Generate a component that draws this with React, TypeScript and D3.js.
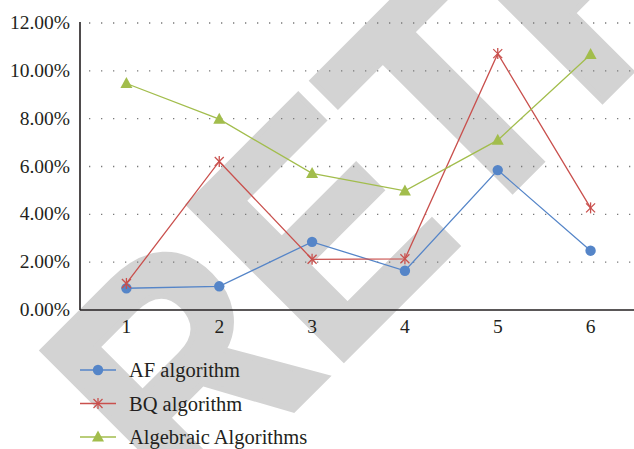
import React from "react";
import * as d3 from "d3";

const categories = ["1", "2", "3", "4", "5", "6"];
const afValues = [0.0091, 0.0099, 0.0285, 0.0164, 0.0585, 0.0248];
const bqValues = [0.0111, 0.0621, 0.0212, 0.0214, 0.1072, 0.0427];
const algValues = [0.0947, 0.0798, 0.0571, 0.0498, 0.071, 0.1068];
const yTicks = [0, 0.02, 0.04, 0.06, 0.08, 0.1, 0.12];
const seriesNames = ["AF algorithm", "BQ algorithm", "Algebraic Algorithms"];

const W = 634;
const H = 449;
const left = 80;
const top = 23;
const bottom = 310;
const right = 637;

const colors = ["#5585c8", "#c9504d", "#a2bd4c"];
const FONT = "'Liberation Serif', 'Times New Roman', serif";

function Marker({ kind, x, y, color }: { kind: number; x: number; y: number; color: string }) {
  if (kind === 0) return <circle cx={x} cy={y} r={5.2} fill={color} />;
  if (kind === 1) {
    const s = 4.5;
    return (
      <g stroke={color} strokeWidth={1.3}>
        <line x1={x - s} y1={y - s} x2={x + s} y2={y + s} />
        <line x1={x - s} y1={y + s} x2={x + s} y2={y - s} />
        <line x1={x} y1={y - s - 1} x2={x} y2={y + s + 1} />
      </g>
    );
  }
  const h = 5.5;
  return <path d={`M${x},${y - h - 1}L${x + h + 0.5},${y + h - 1}L${x - h - 0.5},${y + h - 1}Z`} fill={color} />;
}

export default function App() {
  const x = d3.scalePoint<string>().domain(categories).range([left, right]).padding(0.5);
  const y = d3.scaleLinear().domain([0, 0.12]).range([bottom, top]);
  const line = d3
    .line<number>()
    .x((_, i) => x(categories[i]) as number)
    .y((d) => y(d));
  const all = [afValues, bqValues, algValues];

  return (
    <svg width={W} height={H} style={{ position: "absolute", left: 0, top: 0, background: "#fff" }}>
      <rect width={W} height={H} fill="#fff" />
      <g transform="translate(184,519) rotate(-45) scale(0.9,1)">
        <text
          x={0}
          y={0}
          fontFamily="'Liberation Sans', Arial, sans-serif"
          fontWeight="bold"
          fontSize={318}
          fill="#d3d3d3"
          stroke="#d3d3d3"
          strokeWidth={6}
          strokeLinejoin="miter"
        >
          RETRACTED
        </text>
      </g>
      {yTicks.slice(1).map((t) => (
        <line
          key={t}
          x1={left}
          x2={W}
          y1={y(t)}
          y2={y(t)}
          stroke="#7a7a7a"
          strokeWidth={1.3}
          strokeDasharray="1.3 10.7"
          strokeDashoffset={-9}
        />
      ))}
      {yTicks.map((t) => (
        <text key={"l" + t} x={70} y={y(t) + 6} textAnchor="end" fontFamily={FONT} fontSize={19.5} fill="#231f20">
          {(t * 100).toFixed(2) + "%"}
        </text>
      ))}
      <line x1={left} x2={left} y1={top - 1} y2={bottom} stroke="#231f20" strokeWidth={1.6} />
      <line x1={left} x2={W} y1={bottom} y2={bottom} stroke="#231f20" strokeWidth={1.6} />
      {categories.map((c) => (
        <text key={c} x={x(c)} y={333} textAnchor="middle" fontFamily={FONT} fontSize={19.5} fill="#231f20">
          {c}
        </text>
      ))}
      {all.map((vals, si) => (
        <g key={si}>
          <path d={line(vals) || ""} fill="none" stroke={colors[si]} strokeWidth={1.3} />
          {vals.map((v, i) => (
            <Marker key={i} kind={si} x={x(categories[i]) as number} y={y(v)} color={colors[si]} />
          ))}
        </g>
      ))}
      {seriesNames.map((n, i) => {
        const ry = 370 + i * 33.5;
        return (
          <g key={n}>
            <line x1={80} x2={116} y1={ry} y2={ry} stroke={colors[i]} strokeWidth={1.3} />
            <Marker kind={i} x={98} y={ry} color={colors[i]} />
            <text x={129} y={ry + 7} fontFamily={FONT} fontSize={20.5} fill="#231f20">
              {n}
            </text>
          </g>
        );
      })}
    </svg>
  );
}
